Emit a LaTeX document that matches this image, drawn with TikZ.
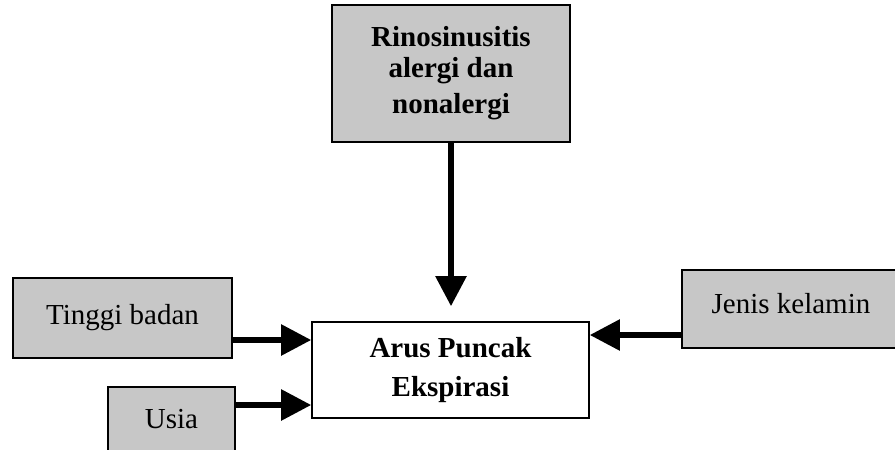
\documentclass[tikz,border=0pt]{standalone}
\usepackage{fontspec}
\setmainfont{Liberation Serif}
\usetikzlibrary{arrows.meta}
\tikzset{
  factor/.style={draw=black, line width=1.6pt, fill=black!22, inner sep=0pt, align=center,
    font=\fontsize{29}{36}\selectfont},
  outcome/.style={draw=black, line width=1.6pt, fill=white, inner sep=0pt, align=center,
    font=\fontsize{29}{40}\selectfont\bfseries},
  arr/.style={line width=5.5pt, -{Triangle[length=30pt,width=30pt]}}
}
\begin{document}
\begin{tikzpicture}[x=1pt,y=-1pt]
\useasboundingbox (0,0) rectangle (895,450);
\node[factor, font=\fontsize{29}{36}\selectfont\bfseries, minimum width=238pt, minimum height=137pt] (rino) at (451,73.5) {\raisebox{-3pt}{\shortstack{Rinosinusitis\\[7pt]alergi dan\\[7pt]nonalergi}}};
\node[outcome, minimum width=277pt, minimum height=96pt] (apex) at (450.5,370) {\raisebox{-4pt}{\shortstack{Arus Puncak\\[15pt]Ekspirasi}}};
\node[factor, minimum width=219pt, minimum height=80pt] (tinggi) at (122.5,318) {\raisebox{6pt}{Tinggi badan}};
\node[factor, minimum width=127pt, minimum height=68pt] (usia) at (171.5,421) {\raisebox{5pt}{Usia}};
\node[factor, minimum width=218pt, minimum height=78pt] (jenis) at (791,309) {\raisebox{12pt}{Jenis kelamin}};
\draw[arr, shorten >=15pt] (rino.south) -- (rino.south |- apex.north);
\draw[arr] (tinggi.east |- 0,340) -- (apex.west |- 0,340);
\draw[arr] (usia.east |- 0,405) -- (apex.west |- 0,405);
\draw[arr] (jenis.west |- 0,335) -- (apex.east |- 0,335);
\end{tikzpicture}
\end{document}
